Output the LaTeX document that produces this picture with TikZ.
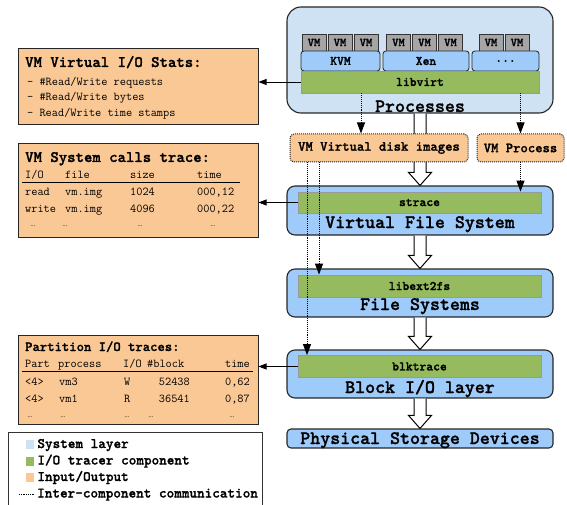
\documentclass[tikz,border=0pt]{standalone}
\usepackage{fontspec}
\usepackage{tikz}
\usetikzlibrary{arrows.meta,calc,positioning}

\newfontfamily\heavytt{lmmonolt10-bold.otf}[FakeBold=1.2]

\definecolor{syslayer}{HTML}{CFE2F3}
\definecolor{layerblue}{HTML}{9FCBFA}
\definecolor{tracergreen}{HTML}{95BB5E}
\definecolor{ioorange}{HTML}{FAC895}
\definecolor{vmgray}{HTML}{A5A5A5}

\newcommand{\mysize}[1]{\fontsize{#1}{#1}\selectfont}

\tikzset{
  layer/.style={draw=black!85, line width=1.1pt, fill=layerblue, rounded corners=8pt, minimum width=266, inner sep=0pt},
  tracer/.style={draw=black!40, line width=0.8pt, fill=tracergreen, inner sep=0pt, font=\heavytt\mysize{13}},
  hyper/.style={draw=black!85, line width=0.8pt, fill=layerblue, rounded corners=3pt, minimum height=20, inner sep=0pt, font=\heavytt\mysize{13}},
  vmbox/.style={draw=black!80, line width=0.6pt, fill=vmgray, minimum width=24, minimum height=17, inner sep=0pt, font=\heavytt\mysize{12}},
  iobox/.style={draw=black!85, line width=1pt, fill=ioorange, inner sep=0pt},
  ioimage/.style={draw=black!85, densely dotted, line width=1pt, rounded corners=4pt, fill=ioorange, minimum height=28, inner sep=0pt, font=\heavytt\mysize{14}},
  biglabel/.style={anchor=base, inner sep=0pt, font=\heavytt\mysize{19}},
  boxtitle/.style={anchor=base west, inner sep=0pt, font=\heavytt\mysize{16}},
  cell/.style={anchor=base west, inner sep=0pt, font=\ttfamily\mysize{12}},
  cellr/.style={cell, anchor=base east},
  gap/.style={anchor=base, inner sep=0pt, font=\mysize{8}},
  comm/.style={densely dotted, line width=0.9pt, -{Triangle[length=11pt,width=8pt]}},
  tap/.style={line width=0.9pt, -{Triangle[length=8pt,width=6pt]}},
  keybox/.style={minimum width=8, minimum height=9, inner sep=0pt},
  keytext/.style={inner sep=0pt, text height=9pt, text depth=2pt, font=\heavytt\mysize{14.5}},
}

% hollow arrow between two layers
\newcommand{\flowarrow}[2]{%
  \draw[line width=1pt, fill=white] ($(#1.south)+(-6,0)$) -- ($(#2.north)+(-6,13)$) -- ($(#2.north)+(-11.5,13)$)
    -- (#2.north) -- ($(#2.north)+(11.5,13)$) -- ($(#2.north)+(6,13)$) -- ($(#1.south)+(6,0)$);}

\begin{document}
\begin{tikzpicture}[x=1pt,y=1pt]
    \useasboundingbox (0,0) rectangle (567,504);
    % Processes
    \node[draw=black!85, line width=1.1pt, fill=syslayer, rounded corners=14pt, minimum width=266, minimum height=106] (proc) at (420,444) {};
    \foreach \x [count=\i] in {314,340,366,398.5,424.5,450.5,491,517}
    {
        \node[vmbox] (vm\i) at (\x,461.5) {VM};
    }
    \node[hyper, minimum width=79] (kvm) at (340.5,443) {KVM};
    \node[hyper, minimum width=86] (xen) at (426,443) {Xen};
    \node[hyper, minimum width=67] (morehyp) at (505.5,443) {...};
    \node[tracer, minimum width=238, minimum height=22] (libvirt) at (420,422) {libvirt};
    \node[biglabel] (proclbl) at (420,392) {Processes};
    % Layers
    \node[layer, minimum height=49] (vfs) at (420,293.5) {};
    \node[tracer, minimum width=243, minimum height=21] (strace) at (419.5,301.5) {strace};
    \node[biglabel] (vfslbl) at (420,276) {Virtual File System};
    \node[layer, minimum height=48] (fs) at (420,211) {};
    \node[tracer, minimum width=243, minimum height=22] (libext) at (419.5,218) {libext2fs};
    \node[biglabel] (fslbl) at (420,194) {File Systems};
    \node[layer, minimum height=48] (blk) at (420,130) {};
    \node[tracer, minimum width=243, minimum height=22] (blktrace) at (419.5,137.5) {blktrace};
    \node[biglabel] (blklbl) at (420,111) {Block I/O layer};
    \node[layer, minimum height=19, rounded corners=4pt] (phys) at (420,65.5) {};
    \node[biglabel] (physlbl) at (420,60) {Physical Storage Devices};
    % Flow
    \flowarrow{proc}{vfs}
    \flowarrow{vfs}{fs}
    \flowarrow{fs}{blk}
    \flowarrow{blk}{phys}
    % Images
    \node[ioimage, minimum width=178] (disk) at (379,356) {VM Virtual disk images};
    \node[ioimage, minimum width=87] (vmproc) at (520.5,356) {VM Process};
    % Stats
    \node[iobox, minimum width=240, minimum height=76] (stats) at (138,417) {};
    \node[boxtitle] (statstitle) at (25,437) {VM Virtual I/O Stats:};
    \foreach \y/\txt [count=\i] in {418/{- \#Read/Write requests}, 403/{- \#Read/Write bytes}, 387/{- Read/Write time stamps}}
    {
        \node[cell] (statsitem\i) at (27,\y) {\txt};
    }
    % System calls
    \node[iobox, minimum width=240, minimum height=93] (sys) at (138,313.5) {};
    \node[boxtitle] (systitle) at (25,342) {VM System calls trace:};
    \foreach \x/\txt [count=\i] in {25/{I/O}, 65/file, 130/size, 197/time}
    {
        \node[cell] (syshead\i) at (\x,325) {\txt};
    }
    \draw[line width=0.8pt] (22,322) -- (240,322);
    \foreach \y/\a/\b/\c/\d [count=\r] in {308/read/vm.img/1024/{000,12}, 291/write/vm.img/4096/{000,22}}
    {
        \node[cell] (sysio\r) at (25,\y) {\a};
        \node[cell] (sysfile\r) at (65,\y) {\b};
        \node[cell] (syssize\r) at (130,\y) {\c};
        \node[cell] (systime\r) at (197,\y) {\d};
    }
    \foreach \x [count=\i] in {33,65,140,213}
    {
        \node[gap] (sysgap\i) at (\x,277) {\ldots};
    }
    % Partition
    \node[iobox, minimum width=240, minimum height=89] (part) at (138,124.5) {};
    \node[boxtitle, font=\heavytt\mysize{14}] (parttitle) at (25,153) {Partition I/O traces:};
    \foreach \x/\txt [count=\i] in {25/Part, 58/process, 123/{I/O}, 147/{\#block}}
    {
        \node[cell] (parthead\i) at (\x,137) {\txt};
    }
    \node[cellr] (parthead5) at (250,137) {time};
    \draw[line width=0.8pt] (22,133) -- (253,133);
    \foreach \y/\a/\b/\c/\d/\e [count=\r] in {119/{<4>}/vm3/W/52438/{0,62}, 102/{<4>}/vm1/R/36541/{0,87}}
    {
        \node[cell] (partno\r) at (25,\y) {\a};
        \node[cell] (partproc\r) at (59,\y) {\b};
        \node[cell] (partio\r) at (124,\y) {\c};
        \node[cellr] (partblock\r) at (190,\y) {\d};
        \node[cellr] (parttime\r) at (250,\y) {\e};
    }
    \foreach \x [count=\i] in {30,63,127,151,232}
    {
        \node[gap] (partgap\i) at (\x,87) {\ldots};
    }
    % Taps
    \draw[tap] (libvirt.west) -- (libvirt.west -| stats.east);
    \draw[tap] (strace.west) -- (strace.west -| sys.east);
    \draw[tap] (blktrace.west) -- (blktrace.west -| part.east);
    % Communication
    \coordinate (diskin) at ([xshift=-18pt]disk.north);
    \draw[comm] (libvirt.south -| diskin) -- (diskin);
    \draw[comm] (libvirt.south -| vmproc.north) -- (vmproc.north);
    \draw[comm] (vmproc.south) -- (vmproc.south |- strace.north);
    \draw[comm] ([xshift=-60pt]disk.south) -- ([xshift=-60pt]disk.south |- libext.north);
    \draw[comm] ([xshift=-72pt]disk.south) -- ([xshift=-72pt]disk.south |- blktrace.north);
    % Legend
    \node[draw=black!80, line width=0.8pt, minimum width=254, minimum height=80, anchor=north west] (legend) at (8,72) {};
    \node[keybox, fill=syslayer] (keysys) at (29.5,59.5) {};
    \node[keybox, fill=tracergreen] (keytracer) at (29.5,43) {};
    \node[keybox, fill=ioorange] (keyio) at (29.5,26.5) {};
    \coordinate (keycomm) at (33.5,10);
    \coordinate (keycommend) at (19,10);
    \node[keytext, right=3.5pt of keysys] (keysystxt) {System layer};
    \node[keytext, right=3.5pt of keytracer] (keytracertxt) {I/O tracer component};
    \node[keytext, right=3.5pt of keyio] (keyiotxt) {Input/Output};
    \node[keytext, right=3.5pt of keycomm] (keycommtxt) {Inter-component communication};
    \draw[densely dotted, line width=0.8pt] (keycommend) -- (keycomm);
\end{tikzpicture}
\end{document}
